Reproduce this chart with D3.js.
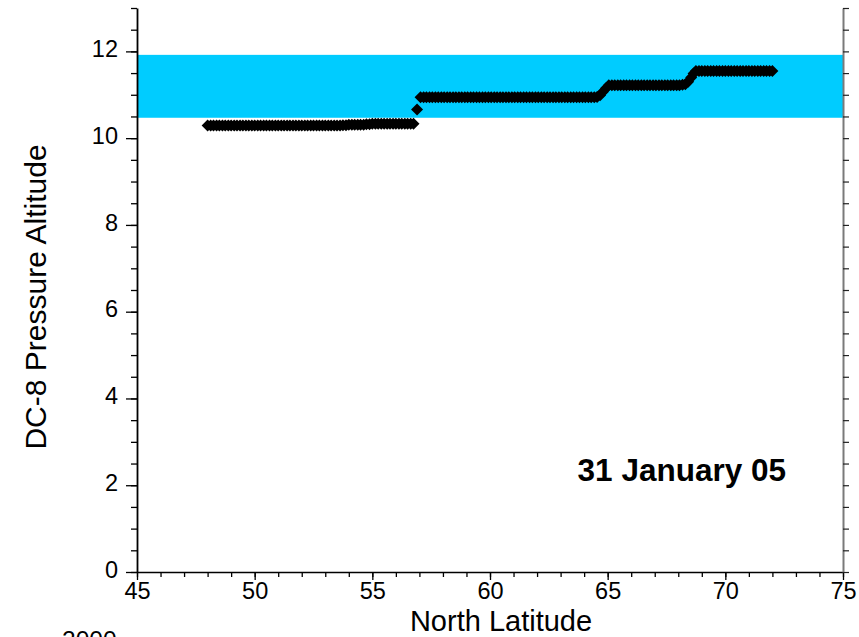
<!DOCTYPE html>
<html>
<head>
<meta charset="utf-8">
<script src="https://cdn.jsdelivr.net/npm/d3@7"></script>
<style>
  html, body { margin: 0; padding: 0; background: #fff; }
  svg { display: block; }
  text { font-family: "Liberation Sans", Arial, Helvetica, sans-serif; fill: #000; }
</style>
</head>
<body>
<div id="chart"></div>
<script>
// ---- data ----
const latitude = [
  48.00, 48.13, 48.25, 48.38, 48.50, 48.63, 48.75, 48.88, 49.00, 49.13, 49.25, 49.38, 49.50, 49.63, 49.75, 49.88,
  50.00, 50.13, 50.25, 50.38, 50.50, 50.63, 50.75, 50.88, 51.00, 51.13, 51.25, 51.38, 51.50, 51.63, 51.75, 51.88,
  52.00, 52.13, 52.25, 52.38, 52.50, 52.63, 52.75, 52.88, 53.00, 53.13, 53.25, 53.38, 53.50, 53.63, 53.75, 53.88,
  54.00, 54.13, 54.25, 54.38, 54.50, 54.63, 54.75, 54.88, 55.00, 55.13, 55.25, 55.38, 55.50, 55.63, 55.75, 55.88,
  56.00, 56.13, 56.25, 56.38, 56.50, 56.63, 56.75,
  56.90,
  57.05, 57.18, 57.30, 57.43, 57.55, 57.68, 57.80, 57.93, 58.05, 58.18, 58.30, 58.43, 58.55, 58.68, 58.80, 58.93,
  59.05, 59.18, 59.30, 59.43, 59.55, 59.68, 59.80, 59.93, 60.05, 60.18, 60.30, 60.43, 60.55, 60.68, 60.80, 60.93,
  61.05, 61.18, 61.30, 61.43, 61.55, 61.68, 61.80, 61.93, 62.05, 62.18, 62.30, 62.43, 62.55, 62.68, 62.80, 62.93,
  63.05, 63.18, 63.30, 63.43, 63.55, 63.68, 63.80, 63.93, 64.05, 64.18, 64.30, 64.43, 64.55,
  64.68, 64.80, 64.93,
  65.05, 65.18, 65.30, 65.43, 65.55, 65.68, 65.80, 65.93, 66.05, 66.18, 66.30, 66.43, 66.55, 66.68, 66.80, 66.93,
  67.05, 67.18, 67.30, 67.43, 67.55, 67.68, 67.80, 67.93, 68.05, 68.18, 68.30,
  68.42, 68.55, 68.65,
  68.75, 68.88, 69.00, 69.13, 69.25, 69.38, 69.50, 69.63, 69.75, 69.88, 70.00, 70.13, 70.25, 70.38, 70.50, 70.63,
  70.75, 70.88, 71.00, 71.13, 71.25, 71.38, 71.50, 71.63, 71.75, 71.88, 72.00
];
const altitude = [
  10.29, 10.29, 10.29, 10.29, 10.29, 10.29, 10.29, 10.29, 10.29, 10.29, 10.29, 10.29, 10.29, 10.29, 10.29, 10.29,
  10.29, 10.29, 10.29, 10.29, 10.29, 10.29, 10.29, 10.29, 10.29, 10.29, 10.29, 10.29, 10.29, 10.29, 10.29, 10.29,
  10.29, 10.29, 10.29, 10.29, 10.29, 10.29, 10.29, 10.29, 10.29, 10.29, 10.29, 10.29, 10.29, 10.29, 10.30, 10.30,
  10.31, 10.31, 10.31, 10.31, 10.31, 10.31, 10.32, 10.32, 10.33, 10.33, 10.33, 10.33, 10.33, 10.33, 10.33, 10.33,
  10.33, 10.33, 10.33, 10.33, 10.33, 10.33, 10.33,
  10.66,
  10.94, 10.94, 10.94, 10.94, 10.94, 10.94, 10.94, 10.94, 10.94, 10.94, 10.94, 10.94, 10.94, 10.94, 10.94, 10.94,
  10.94, 10.94, 10.94, 10.94, 10.94, 10.94, 10.94, 10.94, 10.94, 10.94, 10.94, 10.94, 10.94, 10.94, 10.94, 10.94,
  10.94, 10.94, 10.94, 10.94, 10.94, 10.94, 10.94, 10.94, 10.94, 10.94, 10.94, 10.94, 10.94, 10.94, 10.94, 10.94,
  10.94, 10.94, 10.94, 10.94, 10.94, 10.94, 10.94, 10.94, 10.94, 10.94, 10.94, 10.94, 10.95,
  10.99, 11.07, 11.15,
  11.22, 11.22, 11.22, 11.22, 11.22, 11.22, 11.22, 11.22, 11.22, 11.22, 11.22, 11.22, 11.22, 11.22, 11.22, 11.22,
  11.22, 11.22, 11.22, 11.22, 11.22, 11.22, 11.22, 11.22, 11.22, 11.23, 11.24,
  11.30, 11.40, 11.49,
  11.55, 11.55, 11.55, 11.55, 11.55, 11.55, 11.55, 11.55, 11.55, 11.55, 11.55, 11.55, 11.55, 11.55, 11.55, 11.55,
  11.55, 11.55, 11.55, 11.55, 11.55, 11.55, 11.55, 11.55, 11.55, 11.55, 11.55
];
const bandRange = [10.47, 11.92];          // shaded altitude band
const xTickLabels = [45, 50, 55, 60, 65, 70, 75];
const yTickLabels = [0, 2, 4, 6, 8, 10, 12];
const xDomain = [45, 75];
const yDomain = [0, 13];
const xTitle = "North Latitude";
const yTitle = "DC-8 Pressure Altitude";
const dateLabel = "31 January 05";
const yearLabel = "2000";

// ---- layout ----
const W = 859, H = 637;
const x = d3.scaleLinear().domain(xDomain).range([137, 843]);
const y = d3.scaleLinear().domain(yDomain).range([572, 8]);

const svg = d3.select("#chart").append("svg").attr("width", W).attr("height", H);

// band
svg.append("rect")
  .attr("x", x(xDomain[0])).attr("width", x(xDomain[1]) - x(xDomain[0]))
  .attr("y", y(bandRange[1])).attr("height", y(bandRange[0]) - y(bandRange[1]))
  .attr("fill", "#00CCFF");

// points (diamonds)
const pts = latitude.map((d, i) => [d, altitude[i]]);
svg.append("g").selectAll("path").data(pts).join("path")
  .attr("transform", d => `translate(${x(d[0])},${y(d[1])})`)
  .attr("d", "M0,-6L6,0L0,6L-6,0Z")
  .attr("fill", "#000");

function styleAxis(g, color, width) {
  g.select(".domain").attr("stroke", color).attr("stroke-width", width);
  g.selectAll(".tick line").attr("stroke", color).attr("stroke-width", 1.3);
}
const tickFont = "Liberation Sans, Arial, sans-serif";

// bottom minor + major
const xMinor = d3.axisBottom(x).ticks(30).tickSize(5).tickFormat("").tickSizeOuter(0);
svg.append("g").attr("transform", `translate(0,${y(0)})`).call(xMinor).call(g => styleAxis(g, "#000", 1.5));
const xMajor = d3.axisBottom(x).tickValues(xTickLabels).tickSize(8).tickSizeOuter(0).tickPadding(2.5).tickFormat(d3.format("d"));
svg.append("g").attr("transform", `translate(0,${y(0)})`).call(xMajor)
  .call(g => { g.select(".domain").remove(); g.selectAll(".tick line").attr("stroke", "#000").attr("stroke-width", 1.3);
               g.selectAll("text").attr("font-size", 23.5).attr("font-family", tickFont); });

// left minor + major
const yMinor = d3.axisLeft(y).ticks(26).tickSize(6).tickFormat("").tickSizeOuter(0);
svg.append("g").attr("transform", `translate(${x(45)},0)`).call(yMinor).call(g => styleAxis(g, "#000", 1.8));
const yMajor = d3.axisLeft(y).tickValues(yTickLabels).tickSize(11).tickSizeOuter(0).tickPadding(8).tickFormat(d3.format("d"));
svg.append("g").attr("transform", `translate(${x(45)},0)`).call(yMajor)
  .call(g => { g.select(".domain").remove(); g.selectAll(".tick line").attr("stroke", "#000").attr("stroke-width", 1.3);
               g.selectAll("text").attr("font-size", 23.5).attr("dy", "0.22em").attr("font-family", tickFont); });

// right axis (gray line, outward ticks, no labels)
const yRight = d3.axisRight(y).ticks(26).tickSize(6).tickFormat("").tickSizeOuter(0);
svg.append("g").attr("transform", `translate(${x(75)},0)`).call(yRight)
  .call(g => { g.select(".domain").attr("stroke", "#7a7a7a").attr("stroke-width", 2);
               g.selectAll(".tick line").attr("stroke", "#222").attr("stroke-width", 1.2); });

// titles
svg.append("text").attr("x", 501).attr("y", 630.8).attr("text-anchor", "middle")
  .attr("font-size", 29).text(xTitle);
svg.append("text").attr("transform", "translate(46,297) rotate(-90)").attr("text-anchor", "middle")
  .attr("font-size", 30).text(yTitle);
svg.append("text").attr("x", 786).attr("y", 481).attr("text-anchor", "end")
  .attr("font-size", 31.5).attr("font-weight", "bold").text(dateLabel);
svg.append("text").attr("x", 62).attr("y", 648)
  .attr("font-size", 24.5).text(yearLabel);
</script>
</body>
</html>
